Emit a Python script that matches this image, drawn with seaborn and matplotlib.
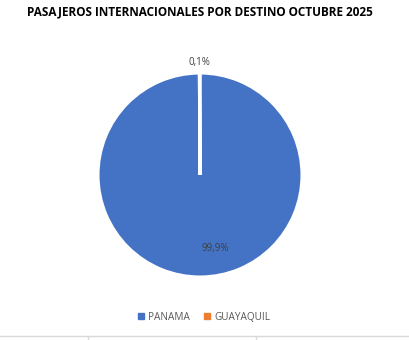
import matplotlib
matplotlib.use("Agg")
import matplotlib.pyplot as plt
import seaborn as sns
from matplotlib.lines import Line2D

categories = ["PANAMA", "GUAYAQUIL"]
values = [99.9, 0.1]
labels = ["99,9%", "0,1%"]
colors = ["#4472C4", "#ED7D31"]

sns.set_theme(style="white")
plt.rcParams['font.family'] = ['Open Sans', 'DejaVu Sans']

W, H = 409, 340
fig = plt.figure(figsize=(W / 100, H / 100), dpi=100)
fig.patch.set_facecolor("white")

ax = fig.add_axes([98 / W, (H - 277) / H, 204 / W, 204 / H])
wedges, _ = ax.pie(values, colors=colors, startangle=90, counterclock=False,
                   radius=1, wedgeprops=dict(edgecolor="white", linewidth=2.2))
ax.set_xlim(-1, 1)
ax.set_ylim(-1, 1)
ax.set_aspect("equal")
ax.axis("off")

ax.text(0.15, -0.72, labels[0], ha="center", va="center", fontsize=7, color="#404040")
ax.text(-0.01, 1.10, labels[1], ha="center", va="center", fontsize=7, color="#404040")

fig.text(200 / W, 1 - 12 / H, "PASAJEROS INTERNACIONALES POR DESTINO OCTUBRE 2025",
         ha="center", va="center", fontsize=8.5, fontweight="bold", color="black")

handles = [Line2D([0], [0], marker="s", linestyle="none", markersize=4,
                  markerfacecolor=c, markeredgecolor=c) for c in colors]
leg = fig.legend(handles, categories, loc="center", bbox_to_anchor=(203 / W, 1 - 317 / H),
                 ncol=2, frameon=False, fontsize=7.2, handletextpad=0.2, columnspacing=1.2,
                 handlelength=1.0)
for t in leg.get_texts():
    t.set_color("#595959")

# bottom border lines
fig.add_artist(Line2D([0, 1], [1 - 336 / H, 1 - 336 / H], transform=fig.transFigure,
                      color="#d9d9d9", linewidth=1))
for x in (88, 256):
    fig.add_artist(Line2D([x / W, x / W], [0, 1 - 336 / H], transform=fig.transFigure,
                          color="#d9d9d9", linewidth=1))

fig.savefig("out.png", dpi=100)
